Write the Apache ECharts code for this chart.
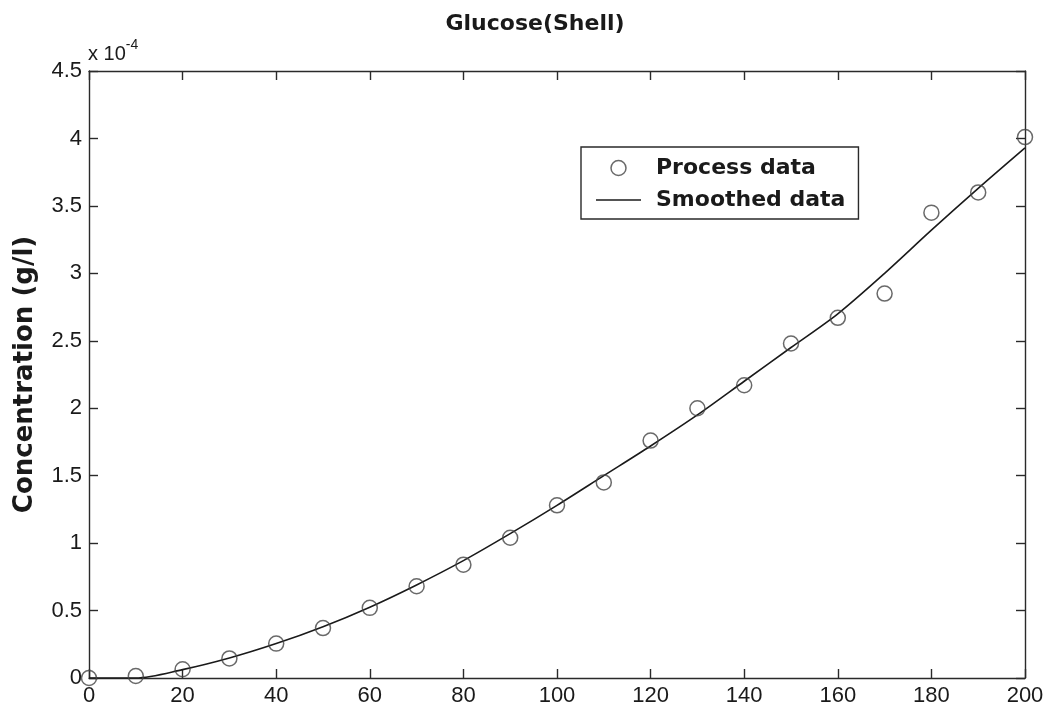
<!DOCTYPE html>
<html>
<head>
<meta charset="utf-8">
<script src="https://cdn.jsdelivr.net/npm/echarts@6/dist/echarts.min.js"></script>
<style>
html,body{margin:0;padding:0;background:#fff;}
#chart{width:1051px;height:717px;}
</style>
</head>
<body>
<div id="chart"></div>
<script>
// Time values (x) and concentrations in units of 1e-4 g/l
const xValues = [0,10,20,30,40,50,60,70,80,90,100,110,120,130,140,150,160,170,180,190,200];
const processData = [0,0.015,0.065,0.145,0.255,0.37,0.52,0.68,0.84,1.04,1.28,1.45,1.76,2.0,2.17,2.48,2.67,2.85,3.45,3.60,4.01];
const smoothedData = [0,0.0,0.062,0.148,0.255,0.38,0.525,0.69,0.87,1.07,1.28,1.5,1.72,1.95,2.2,2.45,2.7,3.0,3.32,3.63,3.93];
const yTicks = [0,0.5,1,1.5,2,2.5,3,3.5,4,4.5];
const titleText = 'Glucose(Shell)';
const yAxisName = 'Concentration (g/l)';
const seriesNames = ['Process data','Smoothed data'];

const chart = echarts.init(document.getElementById('chart'), null, {renderer:'canvas'});
const font = 'Arial, "Liberation Sans", Helvetica, sans-serif';
const boldFont = '"DejaVu Sans", Arial, sans-serif';
const axisCommon = {
  axisLine:{show:true,onZero:false,lineStyle:{color:'#2a2a2a',width:1.4}},
  axisTick:{show:true,inside:true,length:9,lineStyle:{color:'#2a2a2a',width:1.4}},
  splitLine:{show:false}
};
const option = {
  backgroundColor:'#fff',
  animation:false,
  title:{
    text:titleText,
    left:530, top:8, textAlign:'center',
    textStyle:{fontFamily:boldFont,fontWeight:'bold',fontSize:22,color:'#1a1a1a'}
  },
  grid:{left:89,right:26,top:71,bottom:39,containLabel:false},
  legend:{
    orient:'vertical',
    left:581, top:147,
    borderColor:'#2a2a2a', borderWidth:1.4, borderRadius:0,
    padding:[8,13,6,15],
    itemGap:6,
    itemWidth:45, itemHeight:15,
    textStyle:{fontFamily:boldFont,fontWeight:'bold',fontSize:22,color:'#1a1a1a',lineHeight:26,padding:[0,0,0,10]},
    data:[
      {name:seriesNames[0],icon:'circle',itemStyle:{color:'transparent',borderColor:'#444',borderWidth:1.5}},
      {name:seriesNames[1],icon:'path://M0,0 L45,0 L45,1.5 L0,1.5 Z',itemStyle:{color:'#1a1a1a',borderWidth:0}}
    ]
  },
  xAxis:[
    Object.assign({
      type:'value',min:0,max:200,interval:20,position:'bottom',
      axisLabel:{fontFamily:font,fontSize:22,color:'#1a1a1a',margin:7}
    },axisCommon),
    Object.assign({
      type:'value',min:0,max:200,interval:20,position:'top',
      axisLabel:{show:false}
    },axisCommon)
  ],
  yAxis:[
    Object.assign({
      type:'value',min:0,max:4.5,interval:0.5,position:'left',
      name:yAxisName,nameLocation:'middle',nameGap:51,nameRotate:90,
      nameTextStyle:{fontFamily:boldFont,fontWeight:'bold',fontSize:26,color:'#1a1a1a'},
      axisLabel:{fontFamily:font,fontSize:22,color:'#1a1a1a',margin:7,
        formatter:function(v){return String(yTicks.find(t=>Math.abs(t-v)<1e-9));}}
    },axisCommon),
    Object.assign({
      type:'value',min:0,max:4.5,interval:0.5,position:'right',
      axisLabel:{show:false}
    },axisCommon)
  ],
  graphic:[{
    type:'text',left:88,top:38,
    style:{
      text:'{a|x 10}{b|-4}',
      rich:{
        a:{fontFamily:font,fontSize:20,fill:'#1a1a1a',verticalAlign:'bottom',lineHeight:26},
        b:{fontFamily:font,fontSize:14,fill:'#1a1a1a',verticalAlign:'top',padding:[0,0,14,0],lineHeight:26}
      }
    }
  }],
  series:[
    {
      name:seriesNames[0],type:'scatter',
      symbol:'circle',symbolSize:15,
      itemStyle:{color:'transparent',borderColor:'#444',borderWidth:1.5},
      data:xValues.map((x,i)=>[x,processData[i]]),
      z:3
    },
    {
      name:seriesNames[1],type:'line',
      smooth:0.3,showSymbol:false,symbol:'none',
      lineStyle:{color:'#1a1a1a',width:1.6},
      itemStyle:{color:'#1a1a1a'},
      data:xValues.map((x,i)=>[x,smoothedData[i]]),
      z:2
    }
  ]
};
chart.setOption(option);
</script>
</body>
</html>
